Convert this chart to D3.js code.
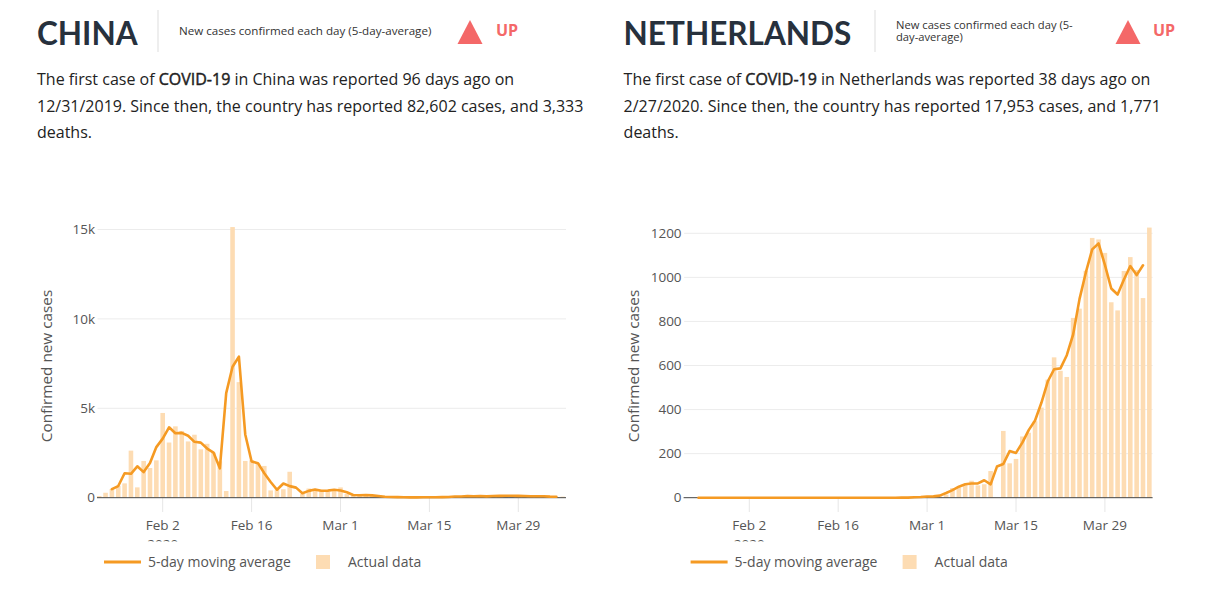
<!DOCTYPE html>
<html>
<head>
<meta charset="utf-8">
<script src="https://cdn.jsdelivr.net/npm/d3@7"></script>
<style>
  html, body { margin: 0; padding: 0; background: #fff; }
  svg { display: block; }
</style>
</head>
<body>
<svg id="chart" width="1213" height="596"></svg>
<script>
// ---------- DATA ----------
const countries = ["CHINA", "NETHERLANDS"];
const subtitleText = "New cases confirmed each day (5-day-average)";
const subtitleWrapped = ["New cases confirmed each day (5-", "day-average)"];
const trendLabel = "UP";
const descriptions = [
  ["The first case of |COVID-19| in China was reported 96 days ago on",
   "12/31/2019. Since then, the country has reported 82,602 cases, and 3,333",
   "deaths."],
  ["The first case of |COVID-19| in Netherlands was reported 38 days ago on",
   "2/27/2020. Since then, the country has reported 17,953 cases, and 1,771",
   "deaths."]
];

// bars: daily values Jan 23 .. Apr 5 2020
const barStart = "2020-01-23";
const chinaDaily = [
  95, 277, 486, 669, 802, 2632, 578, 2054, 1661,
  2089, 4739, 3086, 3991, 3733, 3147, 3523, 2704, 3015, 2525, 2032, 373, 15136, 6463, 2055, 2100,
  1921, 1777, 408, 458, 473, 1451, 21, 219, 513, 412, 434, 328, 428,
  576, 204, 125, 125, 151, 153, 80, 53, 37, 27, 34, 11, 13, 32, 26, 30, 25, 44, 54, 94, 55, 130,
  63, 93, 70, 121, 115, 102, 123, 76, 81,
  82, 71, 79, 32, 59
];
const netherlandsDaily = [
  0, 0, 0, 0, 0, 0, 0, 0, 0,
  0, 0, 0, 0, 0, 0, 0, 0, 0, 0, 0, 0, 0, 0, 0, 0, 0, 0, 0, 0, 0, 0, 0, 0, 0, 0,
  1, 0, 5,
  4, 8, 6, 14, 44, 46, 60, 77, 56, 61, 121, 0, 303, 156, 176, 278, 295, 347, 409, 536, 637, 576,
  548, 816, 858, 1030, 1179, 1172, 1111, 887, 850,
  1029, 1092, 1033, 906, 1226
];

// moving average line: Jan 25 .. Apr 4 2020
const lineStart = "2020-01-25";
const chinaAvg = [
  477, 652, 1368, 1337, 1755, 1431, 1935,
  2830, 3305, 3939, 3603, 3624, 3468, 3125, 3081, 2748, 2524, 1643, 5847, 7324, 7885, 3539, 2025,
  1933, 1369, 881, 446, 794, 648, 564, 251, 381, 453, 391, 397, 444,
  403, 302, 151, 134, 143, 128, 95, 57, 39, 33, 24, 19, 19, 24, 29, 27, 33, 41, 64, 68, 93, 83,
  95, 75, 95, 102, 113, 113, 100, 93, 80,
  78, 77, 61, 57
];
const netherlandsAvg = [
  0, 0, 0, 0, 0, 0, 0,
  0, 0, 0, 0, 0, 0, 0, 0, 0, 0, 0, 0, 0, 0, 0, 0, 0, 0, 0, 0, 0, 0, 0, 0, 0,
  0.3, 0.3, 2, 3,
  5.7, 6, 9.3, 21.3, 34.7, 50, 61, 64.3, 64.7, 79.3, 60.7, 141.3, 153, 211.7, 203.3, 249.7, 306.7,
  350.3, 430.7, 527.3, 583, 587, 646.7, 740.7, 901.3, 1022.3, 1127, 1154, 1056.7, 949.3, 922,
  990.3, 1051.3, 1010.3, 1055
];

const xTickDates = ["2020-02-02", "2020-02-16", "2020-03-01", "2020-03-15", "2020-03-29"];
const xTickLabels = ["Feb 2", "Feb 16", "Mar 1", "Mar 15", "Mar 29"];
const chinaYTicks = [0, 5000, 10000, 15000];
const chinaYLabels = ["0", "5k", "10k", "15k"];
const nlYTicks = [0, 200, 400, 600, 800, 1000, 1200];
const nlYLabels = ["0", "200", "400", "600", "800", "1000", "1200"];
const yAxisTitle = "Confirmed new cases";
const legendLabels = ["5-day moving average", "Actual data"];

// ---------- STYLE ----------
const LINE_COLOR = "#f59a23";
const BAR_COLOR = "#fddcb3";
const RED = "#f46868";
const FONT = "'Open Sans', 'Noto Sans', sans-serif";

const parse = d3.utcParse("%Y-%m-%d");
const svg = d3.select("#chart");

const panels = [
  { name: countries[0], daily: chinaDaily, avg: chinaAvg, yTicks: chinaYTicks, yLabels: chinaYLabels,
    yMax: 15000, yTop: 229.5, ox: 0, desc: descriptions[0], sepX: 158, subX: 179, subWrap: false, triX: 470, upX: 496 },
  { name: countries[1], daily: netherlandsDaily, avg: netherlandsAvg, yTicks: nlYTicks, yLabels: nlYLabels,
    yMax: 1200, yTop: 233.3, ox: 586.6, desc: descriptions[1], sepX: 875, subX: 896, subWrap: true, triX: 1128, upX: 1153 }
];

panels.forEach((p, idx) => {
  const g = svg.append("g");
  const left = 97.5 + p.ox, right = 566 + p.ox;
  const feb2 = parse("2020-02-02"), mar29 = parse("2020-03-29");
  const pxPerDay = 6.35;
  const x0 = 162.7 + p.ox;
  const x = d3.scaleUtc()
    .domain([feb2, mar29])
    .range([x0, x0 + 56 * pxPerDay]);
  const y = d3.scaleLinear().domain([0, p.yMax]).range([497.7, p.yTop]);

  // ---- header ----
  const hx = 37 + p.ox;
  g.append("text").attr("x", hx).attr("y", 45)
    .attr("font-family", "Lato, 'Open Sans', sans-serif").attr("font-weight", 700)
    .attr("font-size", 31.5).attr("fill", "#27313d").text(p.name);
  g.append("line").attr("x1", p.sepX).attr("x2", p.sepX).attr("y1", 10).attr("y2", 52)
    .attr("stroke", "#ddd").attr("stroke-width", 1);
  if (!p.subWrap) {
    g.append("text").attr("x", p.subX).attr("y", 35).attr("font-family", FONT)
      .attr("font-size", 11.6).attr("fill", "#333").text(subtitleText);
  } else {
    subtitleWrapped.forEach((s, i) => {
      g.append("text").attr("x", p.subX).attr("y", 28.5 + i * 12.5).attr("font-family", FONT)
        .attr("font-size", 11.2).attr("fill", "#333").text(s);
    });
  }
  const tx = p.triX;
  g.append("path")
    .attr("d", `M${tx},20 L${tx + 12.5},44 L${tx - 12.5},44 Z`)
    .attr("fill", RED);
  g.append("text").attr("x", p.upX).attr("y", 36).attr("font-family", FONT)
    .attr("font-weight", 700).attr("font-size", 16).attr("fill", RED).text(trendLabel);

  // ---- description ----
  p.desc.forEach((line, i) => {
    const t = g.append("text").attr("x", hx).attr("y", 85 + i * 26.5)
      .attr("font-family", FONT).attr("font-size", 16).attr("fill", "#222");
    line.split("|").forEach((part, k) => {
      const ts = t.append("tspan").text(part);
      if (k === 1) ts.attr("stroke", "#222").attr("stroke-width", 0.45);
    });
  });

  // ---- gridlines ----
  g.append("g").selectAll("line").data(p.yTicks.filter(v => v > 0)).join("line")
    .attr("x1", left).attr("x2", right)
    .attr("y1", d => y(d)).attr("y2", d => y(d))
    .attr("stroke", "#ececec").attr("stroke-width", 1);

  // x tick marks (light, below axis)
  const xt = xTickDates.map(parse);
  g.append("g").selectAll("line").data(xt).join("line")
    .attr("x1", d => x(d)).attr("x2", d => x(d))
    .attr("y1", 498).attr("y2", 512)
    .attr("stroke", "#e6e6e6").attr("stroke-width", 1);

  // ---- bars ----
  const bStart = parse(barStart);
  const barData = p.daily.map((v, i) => ({ d: d3.utcDay.offset(bStart, i), v }));
  const bw = pxPerDay * 0.72;
  g.append("g").selectAll("rect").data(barData).join("rect")
    .attr("x", d => x(d.d) - bw / 2).attr("width", bw)
    .attr("y", d => y(d.v)).attr("height", d => Math.max(0, y(0) - y(d.v)))
    .attr("fill", BAR_COLOR);

  // zero line
  g.append("line").attr("x1", left - 0.5).attr("x2", right)
    .attr("y1", y(0)).attr("y2", y(0)).attr("stroke", "#444").attr("stroke-width", 1);

  // ---- moving average ----
  const lStart = parse(lineStart);
  const lineData = p.avg.map((v, i) => ({ d: d3.utcDay.offset(lStart, i), v }));
  g.append("path").datum(lineData)
    .attr("d", d3.line().x(d => x(d.d)).y(d => y(d.v)))
    .attr("fill", "none").attr("stroke", LINE_COLOR).attr("stroke-width", 2.6)
    .attr("stroke-linejoin", "round").attr("stroke-linecap", "round");

  // ---- y tick labels ----
  g.append("g").selectAll("text").data(p.yTicks).join("text")
    .attr("x", left - 2.5).attr("y", d => y(d)).attr("dy", "0.35em")
    .attr("text-anchor", "end").attr("font-family", FONT).attr("font-size", 13.5)
    .attr("fill", "#555").text((d, i) => p.yLabels[i]);

  // y axis title
  g.append("text")
    .attr("transform", `translate(${52 + p.ox},366) rotate(-90)`)
    .attr("text-anchor", "middle").attr("font-family", FONT).attr("font-size", 15.3)
    .attr("fill", "#555").text(yAxisTitle);

  // ---- x tick labels ----
  g.append("g").selectAll("text").data(xt).join("text")
    .attr("x", d => x(d)).attr("y", 530).attr("text-anchor", "middle")
    .attr("font-family", FONT).attr("font-size", 13.5).attr("fill", "#555")
    .text((d, i) => xTickLabels[i]);

  // clipped year label
  const clipId = "yearclip" + idx;
  svg.append("clipPath").attr("id", clipId).append("rect")
    .attr("x", p.ox).attr("y", 0).attr("width", 600).attr("height", 541.5);
  g.append("text").attr("clip-path", `url(#${clipId})`)
    .attr("x", x(xt[0])).attr("y", 548.5).attr("text-anchor", "middle")
    .attr("font-family", FONT).attr("font-size", 13.5).attr("fill", "#555")
    .text(d3.utcFormat("%Y")(xt[0]));

  // ---- legend ----
  const lx = 104 + p.ox;
  g.append("line").attr("x1", lx).attr("x2", lx + 37).attr("y1", 562).attr("y2", 562)
    .attr("stroke", LINE_COLOR).attr("stroke-width", 3);
  g.append("text").attr("x", lx + 44).attr("y", 567).attr("font-family", FONT)
    .attr("font-size", 14).attr("fill", "#555").text(legendLabels[0]);
  g.append("rect").attr("x", lx + 212).attr("y", 555).attr("width", 14).attr("height", 14)
    .attr("fill", BAR_COLOR);
  g.append("text").attr("x", lx + 244).attr("y", 567).attr("font-family", FONT)
    .attr("font-size", 14).attr("fill", "#555").text(legendLabels[1]);
});
</script>
</body>
</html>
